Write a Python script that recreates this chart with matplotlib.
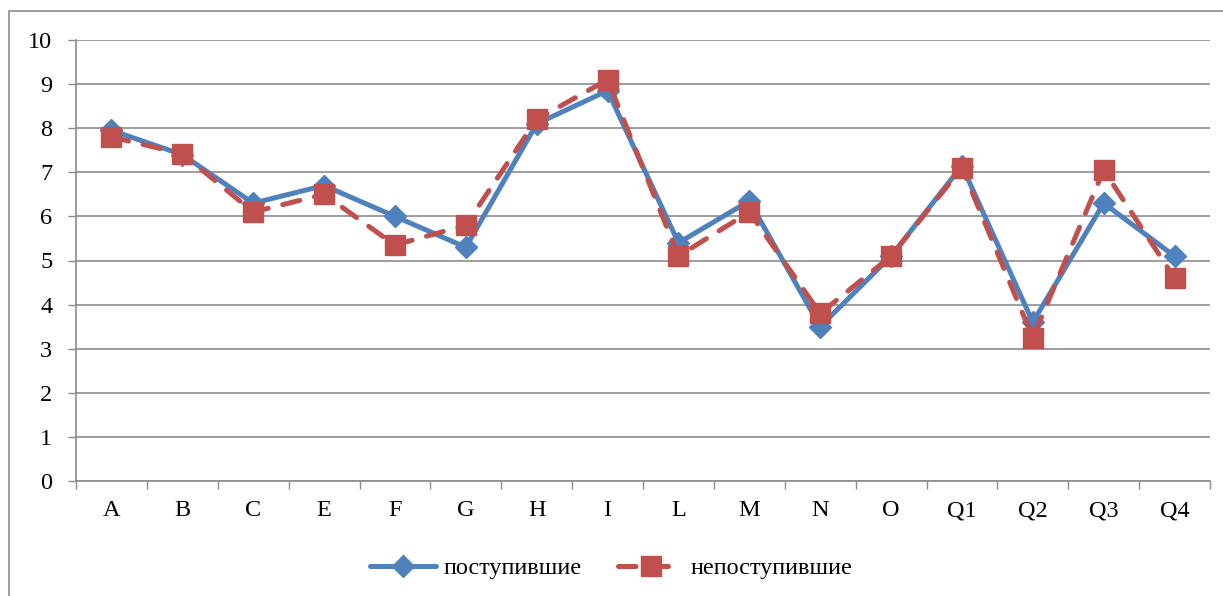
import matplotlib
matplotlib.use("Agg")
import matplotlib.pyplot as plt
from matplotlib.patches import Rectangle
import numpy as np

categories = ["A", "B", "C", "E", "F", "G", "H", "I", "L", "M", "N", "O", "Q1", "Q2", "Q3", "Q4"]
admitted = [7.95, 7.4, 6.3, 6.7, 6.0, 5.3, 8.1, 8.85, 5.4, 6.35, 3.5, 5.1, 7.15, 3.6, 6.3, 5.1]
not_admitted = [7.8, 7.42, 6.1, 6.5, 5.35, 5.8, 8.2, 9.1, 5.1, 6.1, 3.8, 5.1, 7.1, 3.25, 7.05, 4.6]
series_names = ["поступившие", "непоступившие"]
y_ticks = list(range(0, 11))

plt.rcParams['font.family'] = ['Liberation Serif', 'DejaVu Serif']

fig = plt.figure(figsize=(12.23, 5.96), dpi=100)
W, H = 1223, 596
ax = fig.add_axes([76 / W, (H - 481) / H, (1210 - 76) / W, (481 - 40) / H])

x = np.arange(len(categories))
blue = "#4F81BD"
red = "#C0504D"
grid_c = "#8C8C8C"

ax.plot(x, admitted, color=blue, lw=3.6, marker="D", ms=11, label=series_names[0],
        solid_capstyle="round", solid_joinstyle="round", zorder=3)
ax.plot(x, not_admitted, color=red, lw=3.6, marker="s", ms=14, label=series_names[1],
        dashes=(3.5, 3.0), dash_capstyle="round", zorder=4)

ax.set_xlim(-0.5, len(categories) - 0.5)
ax.set_ylim(0, 10)
ax.set_yticks(y_ticks)
ax.set_xticks(x)
ax.set_xticklabels(categories)
ax.set_xticks(np.arange(-0.5, len(categories), 1), minor=True)
ax.tick_params(axis="x", which="major", length=0, pad=14, labelsize=17.5)
ax.tick_params(axis="x", which="minor", length=6, color=grid_c, width=1)
ax.tick_params(axis="y", length=6, color=grid_c, width=1, labelsize=17.5, pad=11)

ax.yaxis.grid(True, color=grid_c, lw=1.2)
ax.set_axisbelow(True)
for s in ["top", "right"]:
    ax.spines[s].set_visible(False)
for s in ["left", "bottom"]:
    ax.spines[s].set_color(grid_c)
    ax.spines[s].set_linewidth(1.2)

leg = fig.legend(loc="center", bbox_to_anchor=(0.5, (H - 568) / H), ncol=2, frameon=False,
                 fontsize=17.5, handlelength=2.7, columnspacing=1.5, handletextpad=0.3)

fig.patches.append(Rectangle((8.5 / W, -0.01), 1.1, (H - 10.5) / H + 0.01, transform=fig.transFigure,
                             fill=False, edgecolor=grid_c, lw=1.2))

fig.savefig("out.png", dpi=100)
